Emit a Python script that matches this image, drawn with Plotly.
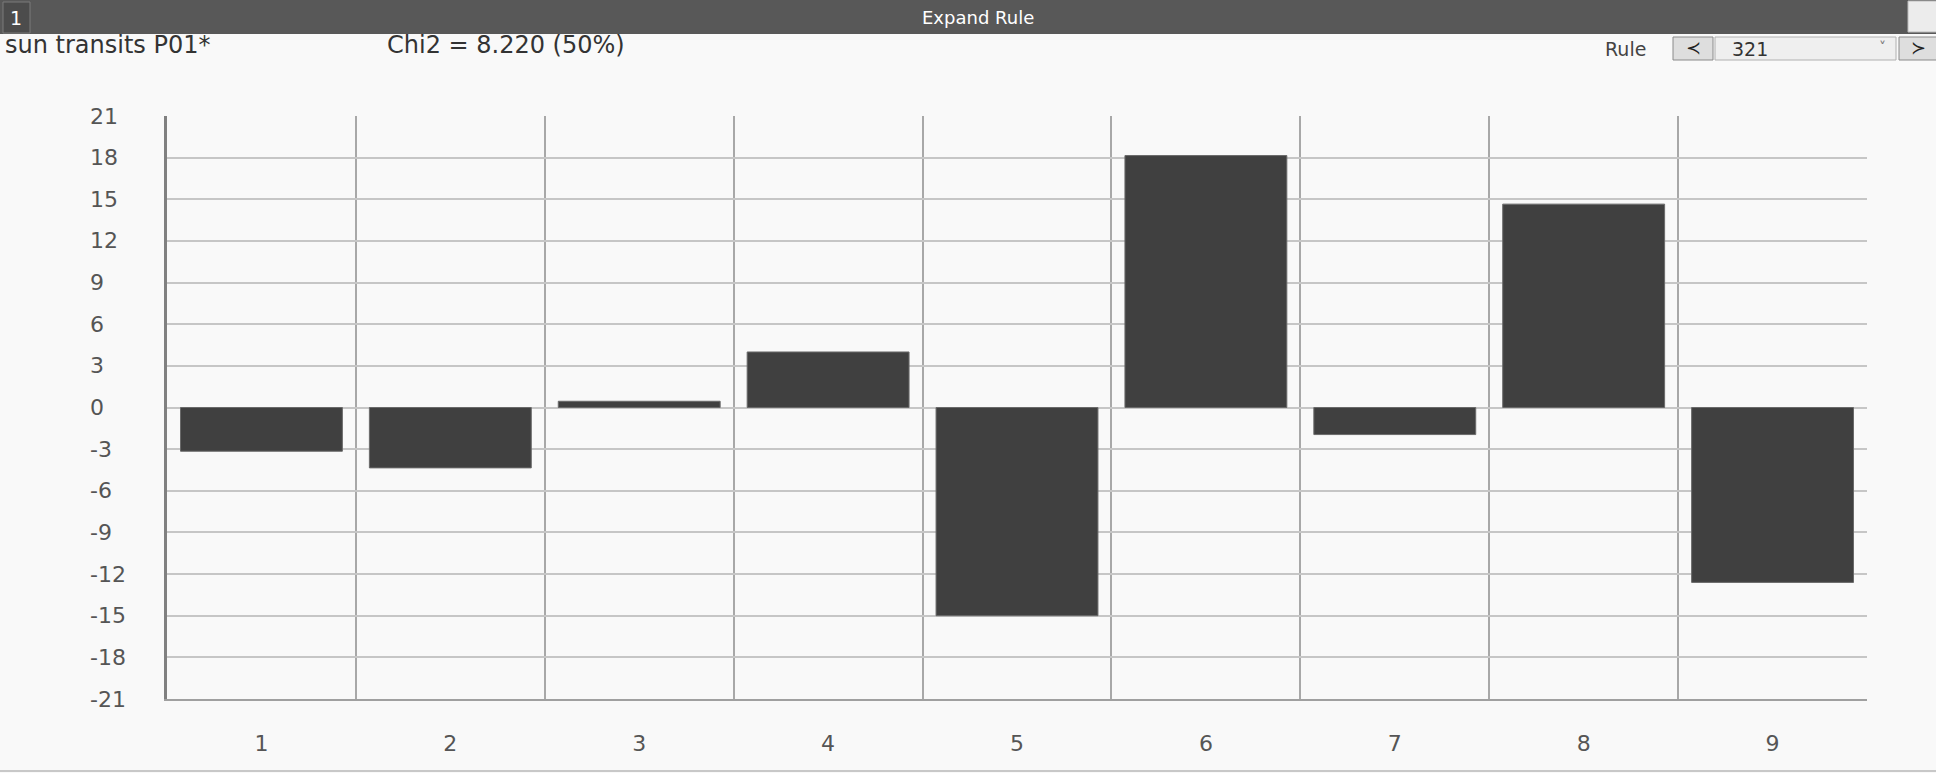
import plotly.graph_objects as go

# ---- data ----
categories = ["1", "2", "3", "4", "5", "6", "7", "8", "9"]
values = [-3.15, -4.35, 0.45, 4.0, -15.0, 18.15, -1.95, 14.65, -12.6]
y_ticks = [21, 18, 15, 12, 9, 6, 3, 0, -3, -6, -9, -12, -15, -18, -21]
title_left = "sun transits P01*"
chi_text = "Chi2 = 8.220 (50%)"
header_title = "Expand Rule"
rule_value = "321"

W, H = 1936, 773
L, R, T, B = 167, 1867, 116, 699
PW, PH = R - L, B - T


def px(x):
    return (x - L) / PW


def py(y):
    return (B - y) / PH


FONT = "DejaVu Sans"
xpos = list(range(1, len(categories) + 1))

fig = go.Figure()
fig.add_trace(go.Bar(
    x=xpos, y=values, width=0.857,
    marker=dict(color="#404040", line=dict(color="#6a6a6a", width=1)),
    hoverinfo="x+y", showlegend=False,
))

fig.update_layout(
    width=W, height=H,
    margin=dict(l=L, r=W - R, t=T, b=H - B, pad=0),
    paper_bgcolor="#f9f9f9", plot_bgcolor="#f9f9f9",
    font=dict(family=FONT, color="#555555"),
    xaxis=dict(
        range=[0.5, len(categories) + 0.5],
        tickmode="array", tickvals=xpos, ticktext=categories,
        showgrid=False, zeroline=False,
        showline=True, linecolor="#a0a0a0", linewidth=2, mirror=False,
        ticks="", ticklabelstandoff=24,
        tickfont=dict(family=FONT, size=22, color="#555555"),
        minor=dict(tick0=0.5, dtick=1, showgrid=True, gridcolor="#a8a8a8", gridwidth=2, ticks=""),
    ),
    yaxis=dict(
        range=[-21, 21], tickmode="array", tickvals=y_ticks,
        showgrid=True, gridcolor="#c6c6c6", gridwidth=2,
        zeroline=False, showline=True, linecolor="#808080", linewidth=2.5,
        showticklabels=False, ticks="",
    ),
)

annotations = []
for v in y_ticks:
    annotations.append(dict(
        x=px(88), xref="paper", y=v, yref="y", text=str(v), showarrow=False,
        xanchor="left", yanchor="middle",
        font=dict(family=FONT, size=22, color="#555555"),
    ))

shapes = []
# header bar
shapes.append(dict(type="rect", xref="paper", yref="paper", x0=px(0), x1=px(W), y0=py(34), y1=py(0),
                   fillcolor="#585858", line=dict(width=0), layer="above"))
# box "1"
shapes.append(dict(type="rect", xref="paper", yref="paper", x0=px(3), x1=px(30), y0=py(33), y1=py(2),
                   fillcolor="#4c4c4c", line=dict(color="#7a7a7a", width=1), layer="above"))
# top-right icon
shapes.append(dict(type="rect", xref="paper", yref="paper", x0=px(1908), x1=px(1940), y0=py(32), y1=py(1),
                   fillcolor="#ececec", line=dict(color="#bbbbbb", width=1), layer="above"))
# rule controls
shapes.append(dict(type="rect", xref="paper", yref="paper", x0=px(1673), x1=px(1713), y0=py(60), y1=py(37),
                   fillcolor="#dedede", line=dict(color="#8a8a8a", width=1), layer="above"))
shapes.append(dict(type="rect", xref="paper", yref="paper", x0=px(1715), x1=px(1896), y0=py(60), y1=py(37),
                   fillcolor="#efefef", line=dict(color="#b0b0b0", width=1), layer="above"))
shapes.append(dict(type="rect", xref="paper", yref="paper", x0=px(1899), x1=px(1940), y0=py(60), y1=py(37),
                   fillcolor="#dedede", line=dict(color="#8a8a8a", width=1), layer="above"))
# bottom border line
shapes.append(dict(type="line", xref="paper", yref="paper", x0=px(0), x1=px(W), y0=py(771), y1=py(771),
                   line=dict(color="#c8c8c8", width=2), layer="above"))

annotations += [
    dict(x=px(16), y=py(18), xref="paper", yref="paper", text="1", showarrow=False,
         xanchor="center", yanchor="middle", font=dict(family=FONT, size=19, color="#ffffff")),
    dict(x=px(978), y=py(17), xref="paper", yref="paper", text=header_title, showarrow=False,
         xanchor="center", yanchor="middle", font=dict(family=FONT, size=18, color="#ffffff")),
    dict(x=px(3), y=py(45), xref="paper", yref="paper", text=title_left, showarrow=False,
         xanchor="left", yanchor="middle", font=dict(family=FONT, size=24, color="#333333")),
    dict(x=px(385), y=py(45), xref="paper", yref="paper", text=chi_text, showarrow=False,
         xanchor="left", yanchor="middle", font=dict(family=FONT, size=24, color="#333333")),
    dict(x=px(1603), y=py(49), xref="paper", yref="paper", text="Rule", showarrow=False,
         xanchor="left", yanchor="middle", font=dict(family=FONT, size=19, color="#444444")),
    dict(x=px(1693), y=py(48), xref="paper", yref="paper", text="≺", showarrow=False,
         xanchor="center", yanchor="middle", font=dict(family=FONT, size=18, color="#222222")),
    dict(x=px(1730), y=py(49), xref="paper", yref="paper", text=rule_value, showarrow=False,
         xanchor="left", yanchor="middle", font=dict(family=FONT, size=19, color="#333333")),
    dict(x=px(1882), y=py(47), xref="paper", yref="paper", text="˅", showarrow=False,
         xanchor="center", yanchor="middle", font=dict(family=FONT, size=14, color="#777777")),
    dict(x=px(1918), y=py(48), xref="paper", yref="paper", text="≻", showarrow=False,
         xanchor="center", yanchor="middle", font=dict(family=FONT, size=18, color="#222222")),
]

fig.update_layout(shapes=shapes, annotations=annotations)
fig.write_html(
    "out.html",
    config={"displayModeBar": False},
    post_script="document.body.style.margin='0px';document.body.style.overflow='hidden';",
)
